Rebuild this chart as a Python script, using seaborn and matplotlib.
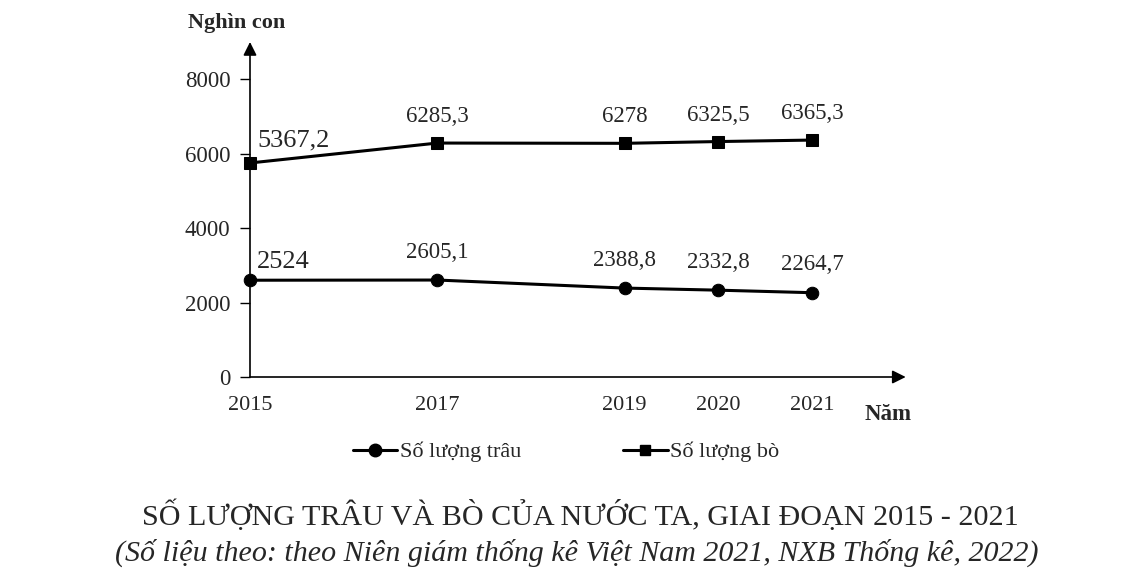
import pandas as pd
import matplotlib
matplotlib.use("Agg")
import matplotlib.pyplot as plt
from matplotlib.lines import Line2D
import seaborn as sns

# ---------------- DATA ----------------
years = [2015, 2017, 2019, 2020, 2021]
# positions as drawn in the picture (2015 points sit higher than their labels)
trau = [2600, 2605.1, 2388.8, 2332.8, 2264.7]
bo = [5750, 6285.3, 6278, 6325.5, 6365.3]
trau_labels = ["2524", "2605,1", "2388,8", "2332,8", "2264,7"]
bo_labels = ["5367,2", "6285,3", "6278", "6325,5", "6365,3"]
y_ticks = [0, 2000, 4000, 6000, 8000]

df = pd.DataFrame({
    "year": years * 2,
    "value": trau + bo,
    "series": ["Số lượng trâu"] * len(years) + ["Số lượng bò"] * len(years),
})

sns.set_style("white")
plt.rcParams["font.family"] = ["Liberation Serif", "DejaVu Serif"]

fig = plt.figure(figsize=(11.25, 5.79), dpi=100)
ax = fig.add_axes([250 / 1125, 1 - 377 / 579, 655.7 / 1125, 335 / 579])

sns.lineplot(data=df, x="year", y="value", hue="series", style="series",
             markers={"Số lượng trâu": "o", "Số lượng bò": "s"}, dashes=False,
             palette=["black", "black"], linewidth=2.2, markersize=9,
             markeredgecolor="black", legend=False, ax=ax, clip_on=False)

ax.set_xlim(2015, 2022)
ax.set_ylim(0, 9000)
ax.set_xticks(years)
ax.set_xticklabels([str(y) for y in years], fontsize=16)
ax.set_yticks(y_ticks)
ax.set_yticklabels([str(v) for v in y_ticks], fontsize=16.5)
ax.tick_params(axis="x", length=0, pad=14)
ax.tick_params(axis="y", length=7, width=1, color="black", pad=7, left=True)
ax.set_xlabel("")
ax.set_ylabel("")
for s in ax.spines.values():
    s.set_visible(False)

# axes with arrow heads
ax.annotate("", xy=(0, 1), xytext=(0, 0), xycoords="axes fraction",
            arrowprops=dict(arrowstyle="-|>", color="black", lw=1.2,
                            mutation_scale=20, shrinkA=0, shrinkB=0))
ax.annotate("", xy=(1, 0), xytext=(0, 0), xycoords="axes fraction",
            arrowprops=dict(arrowstyle="-|>", color="black", lw=1.2,
                            mutation_scale=20, shrinkA=0, shrinkB=0))

# data labels
for i, (x, v, lab) in enumerate(zip(years, bo, bo_labels)):
    if i == 0:
        ax.annotate(lab, (x, v), xytext=(5, 16), textcoords="offset points",
                    ha="left", va="center", fontsize=19)
    else:
        ax.annotate(lab, (x, v), xytext=(0, 19), textcoords="offset points",
                    ha="center", va="center", fontsize=16.5)
for i, (x, v, lab) in enumerate(zip(years, trau, trau_labels)):
    if i == 0:
        ax.annotate(lab, (x, v), xytext=(5, 13), textcoords="offset points",
                    ha="left", va="center", fontsize=19)
    else:
        ax.annotate(lab, (x, v), xytext=(0, 20), textcoords="offset points",
                    ha="center", va="center", fontsize=16.5)

fig.text(188 / 1125, 1 - 23 / 579, "Nghìn con", fontsize=16, fontweight="bold",
         ha="left", va="center")
fig.text(865 / 1125, 1 - 415 / 579, "Năm", fontsize=16.5, fontweight="bold",
         ha="left", va="center")

handles = [
    Line2D([], [], color="black", lw=2.2, marker="o", markersize=9),
    Line2D([], [], color="black", lw=2.2, marker="s", markersize=7),
]
fig.legend(handles, ["Số lượng trâu", "Số lượng bò"], loc="center",
           bbox_to_anchor=(566 / 1125, 1 - 452 / 579), ncol=2, frameon=False,
           fontsize=16, handlelength=2.0, handletextpad=0.1, columnspacing=4.6)

fig.text(580 / 1125, 1 - 515 / 579, "SỐ LƯỢNG TRÂU VÀ BÒ CỦA NƯỚC TA, GIAI ĐOẠN 2015 - 2021",
         fontsize=21.7, ha="center", va="center")
fig.text(577 / 1125, 1 - 553 / 579,
         "(Số liệu theo: theo Niên giám thống kê Việt Nam 2021, NXB Thống kê, 2022)",
         fontsize=21.6, style="italic", ha="center", va="center")

fig.savefig("out.png", dpi=100, facecolor="white")
